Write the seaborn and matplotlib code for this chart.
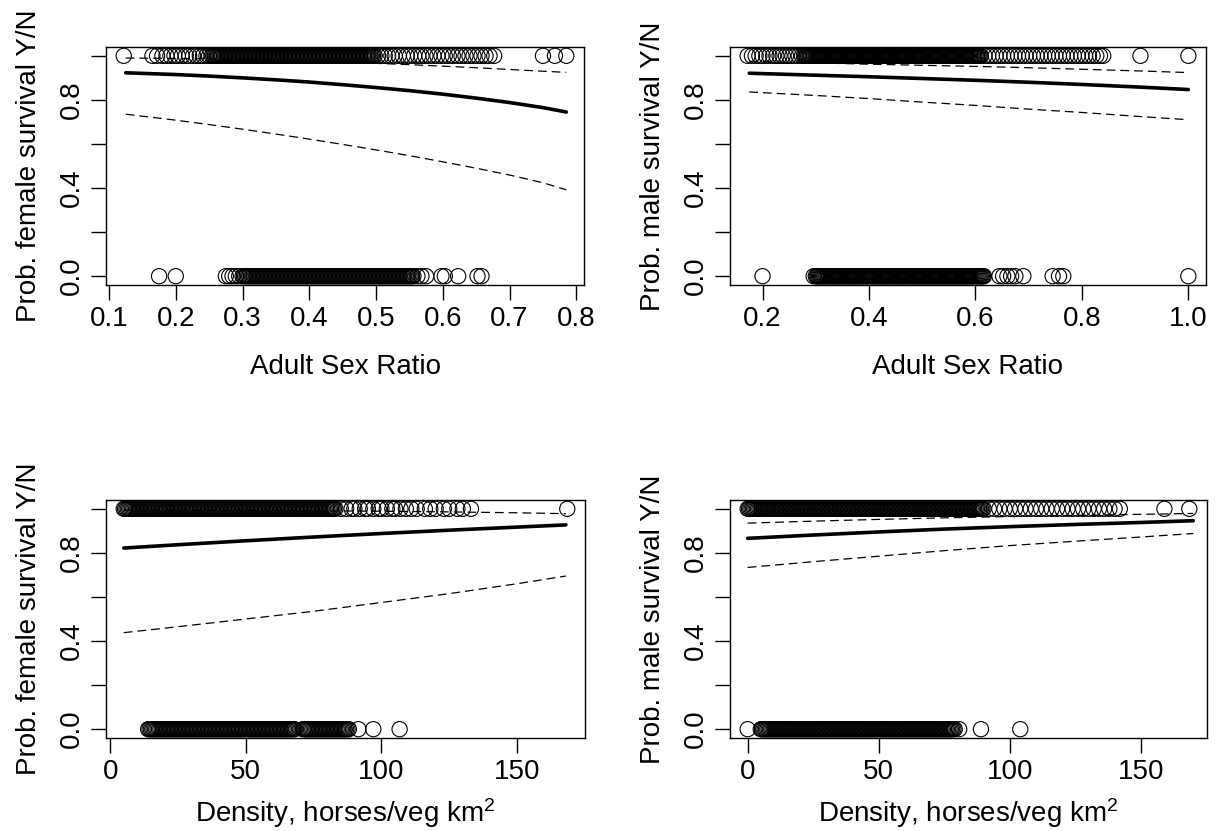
import numpy as np
import pandas as pd
import matplotlib
matplotlib.use("Agg")
import matplotlib.pyplot as plt
import seaborn as sns

# --- data -----------------------------------------------------------------
# panel A: female survival vs adult sex ratio
asr_f_alive = [0.122, 0.165, 0.172, 0.18, 0.186, 0.192, 0.198, 0.203, 0.209, 0.215, 0.22, 0.226,
               0.231, 0.236, 0.241, 0.246, 0.25, 0.254, 0.258, 0.262, 0.266, 0.27, 0.274, 0.278,
               0.282, 0.286, 0.29, 0.294, 0.298, 0.302, 0.306, 0.31, 0.314, 0.318, 0.322, 0.326,
               0.33, 0.334, 0.338, 0.342, 0.346, 0.35, 0.354, 0.358, 0.362, 0.366, 0.37, 0.374,
               0.378, 0.382, 0.386, 0.39, 0.394, 0.398, 0.402, 0.406, 0.41, 0.414, 0.418, 0.422,
               0.426, 0.43, 0.434, 0.438, 0.442, 0.446, 0.45, 0.454, 0.458, 0.462, 0.466, 0.47,
               0.474, 0.478, 0.482, 0.486, 0.49, 0.494, 0.498, 0.503, 0.508, 0.513, 0.518, 0.523,
               0.528, 0.534, 0.54, 0.546, 0.551, 0.557, 0.563, 0.568, 0.574, 0.58, 0.586, 0.592,
               0.598, 0.603, 0.609, 0.615, 0.622, 0.628, 0.634, 0.64, 0.646, 0.652, 0.658, 0.664,
               0.67, 0.677, 0.75, 0.768, 0.785]
asr_f_alive_b = [0.256, 0.26, 0.264, 0.268, 0.272, 0.276, 0.28, 0.284, 0.288, 0.292, 0.296, 0.3,
                 0.304, 0.308, 0.312, 0.316, 0.32, 0.324, 0.328, 0.332, 0.336, 0.34, 0.344, 0.348,
                 0.352, 0.356, 0.36, 0.364, 0.368, 0.372, 0.376, 0.38, 0.384, 0.388, 0.392, 0.396,
                 0.4, 0.404, 0.408, 0.412, 0.416, 0.42, 0.424, 0.428, 0.432, 0.436, 0.44, 0.444,
                 0.448, 0.452, 0.456, 0.46, 0.464, 0.468, 0.472, 0.476, 0.48, 0.484, 0.488, 0.492,
                 0.496]
asr_f_dead = [0.175, 0.20, 0.275, 0.28, 0.285, 0.29, 0.295, 0.30, 0.304, 0.308, 0.312, 0.316,
              0.32, 0.324, 0.328, 0.332, 0.336, 0.34, 0.344, 0.348, 0.352, 0.356, 0.36, 0.364,
              0.368, 0.372, 0.376, 0.38, 0.384, 0.388, 0.392, 0.396, 0.40, 0.404, 0.408, 0.412,
              0.416, 0.42, 0.424, 0.428, 0.432, 0.436, 0.44, 0.444, 0.448, 0.452, 0.456, 0.46,
              0.464, 0.468, 0.472, 0.476, 0.48, 0.484, 0.488, 0.492, 0.496, 0.50, 0.504, 0.508,
              0.512, 0.516, 0.52, 0.524, 0.528, 0.532, 0.536, 0.54, 0.544, 0.548, 0.552, 0.556,
              0.562, 0.568, 0.575, 0.598, 0.603, 0.623, 0.652, 0.658]
asr_f_dead_b = [0.302, 0.306, 0.31, 0.314, 0.318, 0.322, 0.326, 0.33, 0.334, 0.338, 0.342, 0.346,
                0.35, 0.354, 0.358, 0.362, 0.366, 0.37, 0.374, 0.378, 0.382, 0.386, 0.39, 0.394,
                0.398, 0.402, 0.406, 0.41, 0.414, 0.418, 0.422, 0.426, 0.43, 0.434, 0.438, 0.442,
                0.446, 0.45, 0.454, 0.458, 0.462, 0.466, 0.47, 0.474, 0.478, 0.482, 0.486, 0.49,
                0.494, 0.498, 0.502, 0.506, 0.51, 0.514, 0.518, 0.522, 0.526, 0.53, 0.534, 0.538,
                0.542, 0.546, 0.55, 0.554]
asr_f_x = [0.125, 0.2, 0.25, 0.3, 0.35, 0.4, 0.45, 0.5, 0.55, 0.6, 0.65, 0.7, 0.75, 0.785]
asr_f_fit = [0.923, 0.915, 0.908, 0.9, 0.891, 0.881, 0.869, 0.856, 0.842, 0.826, 0.808, 0.788,
             0.765, 0.745]
asr_f_hi = [0.99, 0.988, 0.986, 0.984, 0.981, 0.977, 0.972, 0.966, 0.96, 0.953, 0.946, 0.938,
            0.93, 0.925]
asr_f_lo = [0.735, 0.708, 0.688, 0.667, 0.645, 0.622, 0.598, 0.573, 0.547, 0.519, 0.49, 0.459,
            0.424, 0.392]

# panel B: male survival vs adult sex ratio
asr_m_alive = [0.172, 0.18, 0.187, 0.194, 0.20, 0.207, 0.213, 0.22, 0.226, 0.232, 0.238, 0.244,
               0.25, 0.256, 0.262, 0.268, 0.274, 0.278, 0.282, 0.286, 0.29, 0.294, 0.298, 0.302,
               0.306, 0.31, 0.314, 0.318, 0.322, 0.326, 0.33, 0.334, 0.338, 0.342, 0.346, 0.35,
               0.354, 0.358, 0.362, 0.366, 0.37, 0.374, 0.378, 0.382, 0.386, 0.39, 0.394, 0.398,
               0.402, 0.406, 0.41, 0.414, 0.418, 0.422, 0.426, 0.43, 0.434, 0.438, 0.442, 0.446,
               0.45, 0.454, 0.458, 0.462, 0.466, 0.47, 0.474, 0.478, 0.482, 0.486, 0.49, 0.494,
               0.498, 0.502, 0.506, 0.51, 0.514, 0.518, 0.522, 0.526, 0.53, 0.534, 0.538, 0.542,
               0.546, 0.55, 0.554, 0.558, 0.562, 0.566, 0.57, 0.574, 0.578, 0.582, 0.586, 0.59,
               0.594, 0.598, 0.602, 0.606, 0.61, 0.617, 0.624, 0.631, 0.638, 0.645, 0.652, 0.659,
               0.666, 0.673, 0.68, 0.687, 0.694, 0.701, 0.708, 0.715, 0.722, 0.729, 0.736, 0.743,
               0.75, 0.757, 0.764, 0.771, 0.778, 0.785, 0.792, 0.799, 0.806, 0.813, 0.82, 0.827,
               0.834, 0.84, 0.91, 1.0]
asr_m_alive_b = [0.28, 0.284, 0.288, 0.292, 0.296, 0.3, 0.304, 0.308, 0.312, 0.316, 0.32, 0.324,
                 0.328, 0.332, 0.336, 0.34, 0.344, 0.348, 0.352, 0.356, 0.36, 0.364, 0.368, 0.372,
                 0.376, 0.38, 0.384, 0.388, 0.392, 0.396, 0.4, 0.404, 0.408, 0.412, 0.416, 0.42,
                 0.424, 0.428, 0.432, 0.436, 0.44, 0.444, 0.448, 0.452, 0.456, 0.46, 0.464, 0.468,
                 0.472, 0.476, 0.48, 0.484, 0.488, 0.492, 0.496, 0.5, 0.504, 0.508, 0.512, 0.516,
                 0.52, 0.524, 0.528, 0.532, 0.536, 0.54, 0.544, 0.548, 0.552, 0.556, 0.56, 0.564,
                 0.568, 0.572, 0.576, 0.58, 0.584, 0.588, 0.592, 0.596, 0.6, 0.604, 0.608]
asr_m_dead = [0.20, 0.296, 0.30, 0.304, 0.308, 0.312, 0.316, 0.32, 0.324, 0.328, 0.332, 0.336,
              0.34, 0.344, 0.348, 0.352, 0.356, 0.36, 0.364, 0.368, 0.372, 0.376, 0.38, 0.384,
              0.388, 0.392, 0.396, 0.40, 0.404, 0.408, 0.412, 0.416, 0.42, 0.424, 0.428, 0.432,
              0.436, 0.44, 0.444, 0.448, 0.452, 0.456, 0.46, 0.464, 0.468, 0.472, 0.476, 0.48,
              0.484, 0.488, 0.492, 0.496, 0.50, 0.504, 0.508, 0.512, 0.516, 0.52, 0.524, 0.528,
              0.532, 0.536, 0.54, 0.544, 0.548, 0.552, 0.556, 0.56, 0.564, 0.568, 0.572, 0.576,
              0.58, 0.584, 0.588, 0.592, 0.596, 0.60, 0.604, 0.608, 0.612, 0.616, 0.645, 0.652,
              0.66, 0.667, 0.675, 0.69, 0.745, 0.757, 0.765, 1.0]
asr_m_dead_b = [0.302, 0.306, 0.31, 0.314, 0.318, 0.322, 0.326, 0.33, 0.334, 0.338, 0.342, 0.346,
                0.35, 0.354, 0.358, 0.362, 0.366, 0.37, 0.374, 0.378, 0.382, 0.386, 0.39, 0.394,
                0.398, 0.402, 0.406, 0.41, 0.414, 0.418, 0.422, 0.426, 0.43, 0.434, 0.438, 0.442,
                0.446, 0.45, 0.454, 0.458, 0.462, 0.466, 0.47, 0.474, 0.478, 0.482, 0.486, 0.49,
                0.494, 0.498, 0.502, 0.506, 0.51, 0.514, 0.518, 0.522, 0.526, 0.53, 0.534, 0.538,
                0.542, 0.546, 0.55, 0.554, 0.558, 0.562, 0.566, 0.57, 0.574, 0.578, 0.582, 0.586,
                0.59, 0.594, 0.598, 0.602, 0.606, 0.61, 0.614]
asr_m_x = [0.175, 0.3, 0.4, 0.5, 0.6, 0.7, 0.8, 0.9, 1.0]
asr_m_fit = [0.921, 0.912, 0.905, 0.897, 0.889, 0.88, 0.87, 0.859, 0.847]
asr_m_hi = [0.975, 0.968, 0.962, 0.957, 0.952, 0.946, 0.939, 0.932, 0.924]
asr_m_lo = [0.836, 0.82, 0.806, 0.79, 0.775, 0.758, 0.743, 0.726, 0.71]

# panel C: female survival vs density
den_f_alive = [5, 6, 7, 8, 9, 10, 11, 12, 13, 14, 15, 16, 17, 18, 19, 20, 21, 22, 23, 24, 25,
               26, 27, 28, 29, 30, 31, 32, 33, 34, 35, 36, 37, 38, 39, 40, 41, 42, 43, 44, 45,
               46, 47, 48, 49, 50, 51, 52, 53, 54, 55, 56, 57, 58, 59, 60, 61, 62, 63, 64, 65,
               66, 67, 68, 69, 70, 71, 72, 73, 74, 75, 76, 77, 78, 79, 80, 81, 82, 83, 85, 87,
               89, 90, 92, 94, 95, 97, 99, 100, 102, 104, 105, 107, 109, 111, 113, 116, 118, 120,
               123, 125, 128, 130, 133, 168.5]
den_f_alive_b = [5.5, 6.5, 7.5, 8.5, 9.5, 10.5, 11.5, 12.5, 13.5, 14.5, 15.5, 16.5, 17.5, 18.5,
                 19.5, 20.5, 21.5, 22.5, 23.5, 24.5, 25.5, 26.5, 27.5, 28.5, 29.5, 30.5, 31.5,
                 32.5, 33.5, 34.5, 35.5, 36.5, 37.5, 38.5, 39.5, 40.5, 41.5, 42.5, 43.5, 44.5,
                 45.5, 46.5, 47.5, 48.5, 49.5, 50.5, 51.5, 52.5, 53.5, 54.5, 55.5, 56.5, 57.5,
                 58.5, 59.5, 60.5, 61.5, 62.5, 63.5, 64.5, 65.5, 66.5, 67.5, 68.5, 69.5, 70.5,
                 71.5, 72.5, 73.5, 74.5, 75.5, 76.5, 77.5, 78.5, 79.5, 80.5, 81.5, 82.5]
den_f_dead = [14, 15, 16, 17, 18, 19, 20, 21, 22, 23, 24, 25, 26, 27, 28, 29, 30, 31, 32, 33,
              34, 35, 36, 37, 38, 39, 40, 41, 42, 43, 44, 45, 46, 47, 48, 49, 50, 51, 52, 53,
              54, 55, 56, 57, 58, 59, 60, 61, 62, 63, 64, 65, 66, 67, 68, 71, 72, 73, 74, 75,
              76, 77, 78, 79, 80, 81, 82, 83, 84, 85, 86, 87, 88, 91.5, 97, 106.7]
den_f_dead_b = [14.5, 15.5, 16.5, 17.5, 18.5, 19.5, 20.5, 21.5, 22.5, 23.5, 24.5, 25.5, 26.5,
                27.5, 28.5, 29.5, 30.5, 31.5, 32.5, 33.5, 34.5, 35.5, 36.5, 37.5, 38.5, 39.5,
                40.5, 41.5, 42.5, 43.5, 44.5, 45.5, 46.5, 47.5, 48.5, 49.5, 50.5, 51.5, 52.5,
                53.5, 54.5, 55.5, 56.5, 57.5, 58.5, 59.5, 60.5, 61.5, 62.5, 63.5, 64.5, 65.5,
                66.5, 67.5, 71.5, 72.5, 73.5, 74.5, 75.5, 76.5, 77.5, 78.5, 79.5, 80.5, 81.5,
                82.5, 83.5, 84.5, 85.5, 86.5, 87.5]
den_f_x = [5, 25, 50, 75, 100, 125, 150, 168]
den_f_fit = [0.822, 0.837, 0.855, 0.872, 0.888, 0.903, 0.917, 0.927]
den_f_hi = [0.995, 0.994, 0.993, 0.991, 0.989, 0.986, 0.982, 0.978]
den_f_lo = [0.438, 0.465, 0.50, 0.535, 0.575, 0.615, 0.66, 0.695]

# panel D: male survival vs density
den_m_alive = [0, 1, 2, 3, 4, 5, 6, 7, 8, 9, 10, 11, 12, 13, 14, 15, 16, 17, 18, 19, 20, 21,
               22, 23, 24, 25, 26, 27, 28, 29, 30, 31, 32, 33, 34, 35, 36, 37, 38, 39, 40, 41,
               42, 43, 44, 45, 46, 47, 48, 49, 50, 51, 52, 53, 54, 55, 56, 57, 58, 59, 60, 61,
               62, 63, 64, 65, 66, 67, 68, 69, 70, 71, 72, 73, 74, 75, 76, 77, 78, 79, 80, 81,
               82, 83, 84, 85, 86, 87, 88, 89, 90, 92, 94, 96, 98, 100, 102, 104, 106, 108, 110,
               112, 114, 116, 118, 120, 122, 124, 126, 128, 130, 132, 134, 136, 138, 140, 142,
               159, 168.5]
den_m_alive_b = [0.5, 1.5, 2.5, 3.5, 4.5, 5.5, 6.5, 7.5, 8.5, 9.5, 10.5, 11.5, 12.5, 13.5, 14.5,
                 15.5, 16.5, 17.5, 18.5, 19.5, 20.5, 21.5, 22.5, 23.5, 24.5, 25.5, 26.5, 27.5,
                 28.5, 29.5, 30.5, 31.5, 32.5, 33.5, 34.5, 35.5, 36.5, 37.5, 38.5, 39.5, 40.5,
                 41.5, 42.5, 43.5, 44.5, 45.5, 46.5, 47.5, 48.5, 49.5, 50.5, 51.5, 52.5, 53.5,
                 54.5, 55.5, 56.5, 57.5, 58.5, 59.5, 60.5, 61.5, 62.5, 63.5, 64.5, 65.5, 66.5,
                 67.5, 68.5, 69.5, 70.5, 71.5, 72.5, 73.5, 74.5, 75.5, 76.5, 77.5, 78.5, 79.5,
                 80.5, 81.5, 82.5, 83.5, 84.5, 85.5, 86.5, 87.5, 88.5, 89.5]
den_m_dead = [0, 5, 6, 7, 8, 9, 10, 11, 12, 13, 14, 15, 16, 17, 18, 19, 20, 21, 22, 23, 24,
              25, 26, 27, 28, 29, 30, 31, 32, 33, 34, 35, 36, 37, 38, 39, 40, 41, 42, 43, 44,
              45, 46, 47, 48, 49, 50, 51, 52, 53, 54, 55, 56, 57, 58, 59, 60, 61, 62, 63, 64,
              65, 66, 67, 68, 69, 70, 71, 72, 73, 74, 75, 76, 77, 78, 79, 80.7, 89, 104]
den_m_dead_b = [5.5, 6.5, 7.5, 8.5, 9.5, 10.5, 11.5, 12.5, 13.5, 14.5, 15.5, 16.5, 17.5, 18.5,
                19.5, 20.5, 21.5, 22.5, 23.5, 24.5, 25.5, 26.5, 27.5, 28.5, 29.5, 30.5, 31.5,
                32.5, 33.5, 34.5, 35.5, 36.5, 37.5, 38.5, 39.5, 40.5, 41.5, 42.5, 43.5, 44.5,
                45.5, 46.5, 47.5, 48.5, 49.5, 50.5, 51.5, 52.5, 53.5, 54.5, 55.5, 56.5, 57.5,
                58.5, 59.5, 60.5, 61.5, 62.5, 63.5, 64.5, 65.5, 66.5, 67.5, 68.5, 69.5, 70.5,
                71.5, 72.5, 73.5, 74.5, 75.5, 76.5, 77.5, 78.5]
den_m_x = [0, 25, 50, 75, 100, 125, 150, 170]
den_m_fit = [0.866, 0.881, 0.895, 0.908, 0.919, 0.929, 0.938, 0.946]
den_m_hi = [0.935, 0.944, 0.952, 0.959, 0.965, 0.97, 0.975, 0.979]
den_m_lo = [0.734, 0.76, 0.785, 0.81, 0.833, 0.853, 0.872, 0.888]

sns.set_theme(style="ticks")
plt.rcParams['font.family'] = ['Liberation Sans', 'DejaVu Sans']
plt.rcParams['mathtext.fontset'] = 'custom'
plt.rcParams['mathtext.rm'] = 'Liberation Sans'
plt.rcParams['mathtext.it'] = 'Liberation Sans'
for k in ('text.color', 'axes.labelcolor', 'xtick.color', 'ytick.color', 'axes.edgecolor'):
    plt.rcParams[k] = 'black'


def panel(ax, alive, dead, xs, fit, hi, lo, xlabel, ylabel, xticks, labelpad=16):
    pts = pd.DataFrame({"x": list(alive) + list(dead),
                        "y": [1] * len(alive) + [0] * len(dead)})
    sns.scatterplot(data=pts, x="x", y="y", ax=ax, s=120, marker="o",
                    color="black", edgecolor="black", linewidth=0.8, zorder=2)
    ax.collections[-1].set_facecolor("none")
    sns.lineplot(x=xs, y=fit, ax=ax, color="black", linewidth=2.6, zorder=3)
    for band in (hi, lo):
        sns.lineplot(x=xs, y=band, ax=ax, color="black", linewidth=0.9,
                     linestyle=(0, (7, 4)), zorder=3)
    # R-style 4% padding around the data range
    xmin = min(min(alive), min(dead))
    xmax = max(max(alive), max(dead))
    pad = 0.04 * (xmax - xmin)
    ax.set_xlim(xmin - pad, xmax + pad)
    ax.set_ylim(-0.04, 1.04)
    ax.set_xticks(xticks)
    ax.set_xticklabels([f"{t:g}" if isinstance(t, int) else f"{t:.1f}" for t in xticks])
    ax.set_yticks([0, 0.2, 0.4, 0.6, 0.8, 1.0])
    ax.set_yticklabels(["0.0", "", "0.4", "", "0.8", ""], rotation=90, va="center")
    ax.set_xlabel(xlabel, fontsize=20, labelpad=labelpad)
    ax.set_ylabel(ylabel, fontsize=20, labelpad=12)
    ax.tick_params(axis="both", labelsize=20, length=11, width=1, color="black",
                   pad=4, direction="out")
    for sp in ax.spines.values():
        sp.set_visible(True)
        sp.set_color("black")
        sp.set_linewidth(1)
    ax.grid(False)


fig = plt.figure(figsize=(12.16, 8.31), dpi=100)
W, H = 1216, 831
boxes = [(106, 47, 584, 285), (730, 47, 1206, 285),
         (106, 500, 585, 738), (730, 500, 1207, 738)]
axes = [fig.add_axes([l / W, 1 - b / H, (r - l) / W, (b - t) / H]) for l, t, r, b in boxes]

dens_label = "Density, horses/veg km$^2$"
panel(axes[0], asr_f_alive + asr_f_alive_b, asr_f_dead + asr_f_dead_b,
      asr_f_x, asr_f_fit, asr_f_hi, asr_f_lo,
      "Adult Sex Ratio", "Prob. female survival Y/N", [0.1, 0.2, 0.3, 0.4, 0.5, 0.6, 0.7, 0.8])
panel(axes[1], asr_m_alive + asr_m_alive_b, asr_m_dead + asr_m_dead_b,
      asr_m_x, asr_m_fit, asr_m_hi, asr_m_lo,
      "Adult Sex Ratio", "Prob. male survival Y/N", [0.2, 0.4, 0.6, 0.8, 1.0])
panel(axes[2], den_f_alive + den_f_alive_b, den_f_dead + den_f_dead_b,
      den_f_x, den_f_fit, den_f_hi, den_f_lo,
      dens_label, "Prob. female survival Y/N", [0, 50, 100, 150], labelpad=8)
panel(axes[3], den_m_alive + den_m_alive_b, den_m_dead + den_m_dead_b,
      den_m_x, den_m_fit, den_m_hi, den_m_lo,
      dens_label, "Prob. male survival Y/N", [0, 50, 100, 150], labelpad=8)

fig.savefig("out.png", dpi=100, facecolor="white")
